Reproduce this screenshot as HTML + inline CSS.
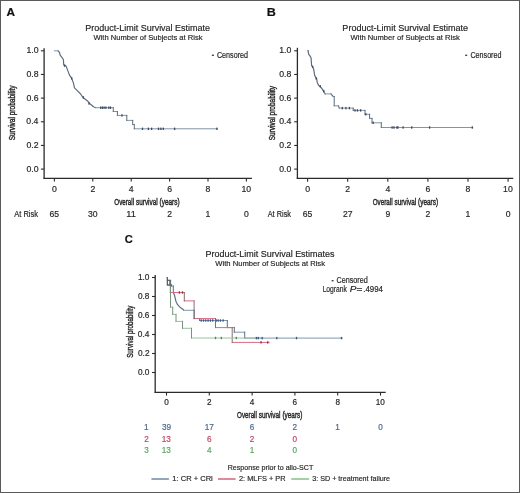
<!DOCTYPE html>
<html><head><meta charset="utf-8"><style>
html,body{margin:0;padding:0;background:#fff;}
body{width:520px;height:493px;overflow:hidden;position:relative;}
svg{position:absolute;left:0;top:0;filter:blur(0.35px);}
text{font-family:"Liberation Sans", sans-serif;}
</style></head><body>
<svg width="520" height="493" viewBox="0 0 520 493">
<rect x="0.5" y="0.5" width="519" height="492" fill="#fff" stroke="#5a5a5a" stroke-width="1"/>
<text x="6.61" y="16.20" font-size="11.5" fill="#111" stroke="#111" font-weight="bold" stroke-width="0.18" textLength="8.50" lengthAdjust="spacingAndGlyphs">A</text>
<text x="85.36" y="30.70" font-size="9.2" fill="#262626" stroke="#262626" stroke-width="0.18" textLength="124.63" lengthAdjust="spacingAndGlyphs">Product-Limit Survival Estimate</text>
<text x="93.47" y="39.70" font-size="8.0" fill="#262626" stroke="#262626" stroke-width="0.18" textLength="109.02" lengthAdjust="spacingAndGlyphs">With Number of Subjects at Risk</text>
<rect x="211.9" y="54.6" width="2" height="1.4" fill="#444"/>
<text x="216.94" y="58.00" font-size="8.4" fill="#262626" stroke="#262626" stroke-width="0.18" textLength="31.13" lengthAdjust="spacingAndGlyphs">Censored</text>
<line x1="44.10" y1="48.30" x2="44.10" y2="178.80" stroke="#2b2b2b" stroke-width="1.3"/>
<line x1="43.45" y1="178.30" x2="251.90" y2="178.30" stroke="#2b2b2b" stroke-width="1.3"/>
<line x1="40.90" y1="169.10" x2="44.10" y2="169.10" stroke="#2b2b2b" stroke-width="1.1"/>
<text x="26.45" y="171.70" font-size="8.7" fill="#262626" stroke="#262626" stroke-width="0.18" textLength="12.09" lengthAdjust="spacingAndGlyphs">0.0</text>
<line x1="40.90" y1="145.44" x2="44.10" y2="145.44" stroke="#2b2b2b" stroke-width="1.1"/>
<text x="26.54" y="148.04" font-size="8.7" fill="#262626" stroke="#262626" stroke-width="0.18" textLength="12.09" lengthAdjust="spacingAndGlyphs">0.2</text>
<line x1="40.90" y1="121.78" x2="44.10" y2="121.78" stroke="#2b2b2b" stroke-width="1.1"/>
<text x="26.36" y="124.38" font-size="8.7" fill="#262626" stroke="#262626" stroke-width="0.18" textLength="12.09" lengthAdjust="spacingAndGlyphs">0.4</text>
<line x1="40.90" y1="98.12" x2="44.10" y2="98.12" stroke="#2b2b2b" stroke-width="1.1"/>
<text x="26.49" y="100.72" font-size="8.7" fill="#262626" stroke="#262626" stroke-width="0.18" textLength="12.09" lengthAdjust="spacingAndGlyphs">0.6</text>
<line x1="40.90" y1="74.46" x2="44.10" y2="74.46" stroke="#2b2b2b" stroke-width="1.1"/>
<text x="26.48" y="77.06" font-size="8.7" fill="#262626" stroke="#262626" stroke-width="0.18" textLength="12.09" lengthAdjust="spacingAndGlyphs">0.8</text>
<line x1="40.90" y1="50.80" x2="44.10" y2="50.80" stroke="#2b2b2b" stroke-width="1.1"/>
<text x="26.45" y="53.40" font-size="8.7" fill="#262626" stroke="#262626" stroke-width="0.18" textLength="12.09" lengthAdjust="spacingAndGlyphs">1.0</text>
<line x1="54.40" y1="178.30" x2="54.40" y2="181.60" stroke="#2b2b2b" stroke-width="1.1"/>
<text x="51.98" y="191.50" font-size="8.7" fill="#262626" stroke="#262626" stroke-width="0.18" textLength="4.84" lengthAdjust="spacingAndGlyphs">0</text>
<line x1="92.80" y1="178.30" x2="92.80" y2="181.60" stroke="#2b2b2b" stroke-width="1.1"/>
<text x="90.38" y="191.50" font-size="8.7" fill="#262626" stroke="#262626" stroke-width="0.18" textLength="4.84" lengthAdjust="spacingAndGlyphs">2</text>
<line x1="131.20" y1="178.30" x2="131.20" y2="181.60" stroke="#2b2b2b" stroke-width="1.1"/>
<text x="128.81" y="191.50" font-size="8.7" fill="#262626" stroke="#262626" stroke-width="0.18" textLength="4.84" lengthAdjust="spacingAndGlyphs">4</text>
<line x1="169.60" y1="178.30" x2="169.60" y2="181.60" stroke="#2b2b2b" stroke-width="1.1"/>
<text x="167.15" y="191.50" font-size="8.7" fill="#262626" stroke="#262626" stroke-width="0.18" textLength="4.84" lengthAdjust="spacingAndGlyphs">6</text>
<line x1="208.00" y1="178.30" x2="208.00" y2="181.60" stroke="#2b2b2b" stroke-width="1.1"/>
<text x="205.58" y="191.50" font-size="8.7" fill="#262626" stroke="#262626" stroke-width="0.18" textLength="4.84" lengthAdjust="spacingAndGlyphs">8</text>
<line x1="246.40" y1="178.30" x2="246.40" y2="181.60" stroke="#2b2b2b" stroke-width="1.1"/>
<text x="241.40" y="191.50" font-size="8.7" fill="#262626" stroke="#262626" stroke-width="0.18" textLength="9.68" lengthAdjust="spacingAndGlyphs">10</text>
<text x="114.30" y="204.50" font-size="9.8" fill="#262626" stroke="#262626" stroke-width="0.45" textLength="19.81" lengthAdjust="spacingAndGlyphs">Overall</text>
<text x="136.02" y="204.50" font-size="9.8" fill="#262626" stroke="#262626" stroke-width="0.45" textLength="21.71" lengthAdjust="spacingAndGlyphs">survival</text>
<text x="159.60" y="204.50" font-size="9.8" fill="#262626" stroke="#262626" stroke-width="0.45" textLength="20.00" lengthAdjust="spacingAndGlyphs">(years)</text>
<text transform="translate(14.80,140.30) rotate(-90)" x="0" y="0" font-size="9.6" fill="#262626" stroke="#262626" stroke-width="0.4" textLength="54.81" lengthAdjust="spacingAndGlyphs">Survival probability</text>
<text x="14.24" y="216.80" font-size="8.4" fill="#262626" stroke="#262626" stroke-width="0.18" textLength="23.75" lengthAdjust="spacingAndGlyphs">At Risk</text>
<text x="49.58" y="216.80" font-size="8.6" fill="#262626" stroke="#262626" stroke-width="0.18" textLength="9.57" lengthAdjust="spacingAndGlyphs">65</text>
<text x="88.02" y="216.80" font-size="8.6" fill="#262626" stroke="#262626" stroke-width="0.18" textLength="9.57" lengthAdjust="spacingAndGlyphs">30</text>
<text x="126.30" y="216.80" font-size="8.6" fill="#262626" stroke="#262626" stroke-width="0.18" textLength="9.57" lengthAdjust="spacingAndGlyphs">11</text>
<text x="167.21" y="216.80" font-size="8.6" fill="#262626" stroke="#262626" stroke-width="0.18" textLength="4.78" lengthAdjust="spacingAndGlyphs">2</text>
<text x="205.49" y="216.80" font-size="8.6" fill="#262626" stroke="#262626" stroke-width="0.18" textLength="4.78" lengthAdjust="spacingAndGlyphs">1</text>
<text x="244.01" y="216.80" font-size="8.6" fill="#262626" stroke="#262626" stroke-width="0.18" textLength="4.78" lengthAdjust="spacingAndGlyphs">0</text>
<path d="M58.10,50.80 L59.60,52.70 L60.10,55.10 L61.70,57.20 L63.40,59.50 L63.70,65.00 L66.10,66.10 L67.80,70.60 L69.50,75.10 L71.70,78.40 L73.40,82.90 L74.50,87.90 L77.30,90.70 L80.60,94.00 L82.90,97.40 L87.30,100.70 L89.60,103.50 L93.50,106.80 L95.80,107.70" fill="none" stroke="#5e6c7d" stroke-width="1.2" stroke-linejoin="round" stroke-linecap="round"/>
<path d="M54.40,50.80H58.10 M95.80,107.70H113.30 M113.30,111.50H117.40 M117.40,115.40H126.80 M126.80,120.40H132.70 M132.70,124.50H134.30 M134.30,128.80H217.50" fill="none" stroke="#8194a8" stroke-width="1.0" stroke-linecap="square"/>
<path d="M113.30,107.70V111.50 M117.40,111.50V115.40 M126.80,115.40V120.40 M132.70,120.40V124.50 M134.30,124.50V128.80" fill="none" stroke="#5d6b7a" stroke-width="1.0" stroke-linecap="square"/>
<rect x="63.95" y="64.40" width="1.3" height="2.40" fill="#3f5064"/>
<rect x="71.05" y="77.20" width="1.3" height="2.40" fill="#3f5064"/>
<rect x="82.75" y="96.20" width="1.3" height="2.40" fill="#3f5064"/>
<rect x="88.35" y="102.30" width="1.3" height="2.40" fill="#3f5064"/>
<rect x="100.05" y="106.50" width="1.3" height="2.40" fill="#3a4a5e"/>
<rect x="101.75" y="106.50" width="1.3" height="2.40" fill="#3a4a5e"/>
<rect x="103.45" y="106.50" width="1.3" height="2.40" fill="#3a4a5e"/>
<rect x="105.25" y="106.50" width="1.3" height="2.40" fill="#3a4a5e"/>
<rect x="108.15" y="106.50" width="1.3" height="2.40" fill="#3a4a5e"/>
<rect x="109.85" y="106.50" width="1.3" height="2.40" fill="#3a4a5e"/>
<rect x="121.35" y="114.20" width="1.3" height="2.40" fill="#3a4a5e"/>
<rect x="141.85" y="127.60" width="1.3" height="2.40" fill="#3a4a5e"/>
<rect x="147.75" y="127.60" width="1.3" height="2.40" fill="#3a4a5e"/>
<rect x="150.95" y="127.60" width="1.3" height="2.40" fill="#3a4a5e"/>
<rect x="157.85" y="127.60" width="1.3" height="2.40" fill="#3a4a5e"/>
<rect x="160.25" y="127.60" width="1.3" height="2.40" fill="#3a4a5e"/>
<rect x="162.65" y="127.60" width="1.3" height="2.40" fill="#3a4a5e"/>
<rect x="173.95" y="127.60" width="1.3" height="2.40" fill="#3a4a5e"/>
<rect x="216.25" y="127.60" width="1.3" height="2.40" fill="#3a4a5e"/>
<text x="266.66" y="16.30" font-size="11.5" fill="#111" stroke="#111" font-weight="bold" stroke-width="0.18" textLength="9.12" lengthAdjust="spacingAndGlyphs">B</text>
<text x="342.36" y="30.70" font-size="9.2" fill="#262626" stroke="#262626" stroke-width="0.18" textLength="125.74" lengthAdjust="spacingAndGlyphs">Product-Limit Survival Estimate</text>
<text x="350.57" y="39.70" font-size="8.0" fill="#262626" stroke="#262626" stroke-width="0.18" textLength="109.22" lengthAdjust="spacingAndGlyphs">With Number of Subjects at Risk</text>
<rect x="465.2" y="54.6" width="2" height="1.4" fill="#444"/>
<text x="470.44" y="58.00" font-size="8.4" fill="#262626" stroke="#262626" stroke-width="0.18" textLength="31.02" lengthAdjust="spacingAndGlyphs">Censored</text>
<line x1="297.40" y1="47.80" x2="297.40" y2="178.90" stroke="#2b2b2b" stroke-width="1.3"/>
<line x1="296.75" y1="178.40" x2="513.30" y2="178.40" stroke="#2b2b2b" stroke-width="1.3"/>
<line x1="294.20" y1="169.10" x2="297.40" y2="169.10" stroke="#2b2b2b" stroke-width="1.1"/>
<text x="279.25" y="171.70" font-size="8.7" fill="#262626" stroke="#262626" stroke-width="0.18" textLength="12.09" lengthAdjust="spacingAndGlyphs">0.0</text>
<line x1="294.20" y1="145.44" x2="297.40" y2="145.44" stroke="#2b2b2b" stroke-width="1.1"/>
<text x="279.34" y="148.04" font-size="8.7" fill="#262626" stroke="#262626" stroke-width="0.18" textLength="12.09" lengthAdjust="spacingAndGlyphs">0.2</text>
<line x1="294.20" y1="121.78" x2="297.40" y2="121.78" stroke="#2b2b2b" stroke-width="1.1"/>
<text x="279.16" y="124.38" font-size="8.7" fill="#262626" stroke="#262626" stroke-width="0.18" textLength="12.09" lengthAdjust="spacingAndGlyphs">0.4</text>
<line x1="294.20" y1="98.12" x2="297.40" y2="98.12" stroke="#2b2b2b" stroke-width="1.1"/>
<text x="279.29" y="100.72" font-size="8.7" fill="#262626" stroke="#262626" stroke-width="0.18" textLength="12.09" lengthAdjust="spacingAndGlyphs">0.6</text>
<line x1="294.20" y1="74.46" x2="297.40" y2="74.46" stroke="#2b2b2b" stroke-width="1.1"/>
<text x="279.28" y="77.06" font-size="8.7" fill="#262626" stroke="#262626" stroke-width="0.18" textLength="12.09" lengthAdjust="spacingAndGlyphs">0.8</text>
<line x1="294.20" y1="50.80" x2="297.40" y2="50.80" stroke="#2b2b2b" stroke-width="1.1"/>
<text x="279.25" y="53.40" font-size="8.7" fill="#262626" stroke="#262626" stroke-width="0.18" textLength="12.09" lengthAdjust="spacingAndGlyphs">1.0</text>
<line x1="307.60" y1="178.40" x2="307.60" y2="181.70" stroke="#2b2b2b" stroke-width="1.1"/>
<text x="305.18" y="191.50" font-size="8.7" fill="#262626" stroke="#262626" stroke-width="0.18" textLength="4.84" lengthAdjust="spacingAndGlyphs">0</text>
<line x1="347.70" y1="178.40" x2="347.70" y2="181.70" stroke="#2b2b2b" stroke-width="1.1"/>
<text x="345.28" y="191.50" font-size="8.7" fill="#262626" stroke="#262626" stroke-width="0.18" textLength="4.84" lengthAdjust="spacingAndGlyphs">2</text>
<line x1="387.80" y1="178.40" x2="387.80" y2="181.70" stroke="#2b2b2b" stroke-width="1.1"/>
<text x="385.41" y="191.50" font-size="8.7" fill="#262626" stroke="#262626" stroke-width="0.18" textLength="4.84" lengthAdjust="spacingAndGlyphs">4</text>
<line x1="427.90" y1="178.40" x2="427.90" y2="181.70" stroke="#2b2b2b" stroke-width="1.1"/>
<text x="425.45" y="191.50" font-size="8.7" fill="#262626" stroke="#262626" stroke-width="0.18" textLength="4.84" lengthAdjust="spacingAndGlyphs">6</text>
<line x1="468.00" y1="178.40" x2="468.00" y2="181.70" stroke="#2b2b2b" stroke-width="1.1"/>
<text x="465.58" y="191.50" font-size="8.7" fill="#262626" stroke="#262626" stroke-width="0.18" textLength="4.84" lengthAdjust="spacingAndGlyphs">8</text>
<line x1="508.10" y1="178.40" x2="508.10" y2="181.70" stroke="#2b2b2b" stroke-width="1.1"/>
<text x="503.10" y="191.50" font-size="8.7" fill="#262626" stroke="#262626" stroke-width="0.18" textLength="9.68" lengthAdjust="spacingAndGlyphs">10</text>
<text x="372.75" y="204.50" font-size="9.8" fill="#262626" stroke="#262626" stroke-width="0.45" textLength="19.81" lengthAdjust="spacingAndGlyphs">Overall</text>
<text x="394.47" y="204.50" font-size="9.8" fill="#262626" stroke="#262626" stroke-width="0.45" textLength="21.71" lengthAdjust="spacingAndGlyphs">survival</text>
<text x="418.05" y="204.50" font-size="9.8" fill="#262626" stroke="#262626" stroke-width="0.45" textLength="20.00" lengthAdjust="spacingAndGlyphs">(years)</text>
<text transform="translate(274.80,140.29) rotate(-90)" x="0" y="0" font-size="9.6" fill="#262626" stroke="#262626" stroke-width="0.4" textLength="54.41" lengthAdjust="spacingAndGlyphs">Survival probability</text>
<text x="267.69" y="216.80" font-size="8.4" fill="#262626" stroke="#262626" stroke-width="0.18" textLength="23.30" lengthAdjust="spacingAndGlyphs">At Risk</text>
<text x="302.78" y="216.80" font-size="8.6" fill="#262626" stroke="#262626" stroke-width="0.18" textLength="9.57" lengthAdjust="spacingAndGlyphs">65</text>
<text x="342.92" y="216.80" font-size="8.6" fill="#262626" stroke="#262626" stroke-width="0.18" textLength="9.57" lengthAdjust="spacingAndGlyphs">27</text>
<text x="385.41" y="216.80" font-size="8.6" fill="#262626" stroke="#262626" stroke-width="0.18" textLength="4.78" lengthAdjust="spacingAndGlyphs">9</text>
<text x="425.51" y="216.80" font-size="8.6" fill="#262626" stroke="#262626" stroke-width="0.18" textLength="4.78" lengthAdjust="spacingAndGlyphs">2</text>
<text x="465.49" y="216.80" font-size="8.6" fill="#262626" stroke="#262626" stroke-width="0.18" textLength="4.78" lengthAdjust="spacingAndGlyphs">1</text>
<text x="505.71" y="216.80" font-size="8.6" fill="#262626" stroke="#262626" stroke-width="0.18" textLength="4.78" lengthAdjust="spacingAndGlyphs">0</text>
<path d="M308.10,50.60 L308.60,54.10 L310.10,56.10 L311.10,58.10 L311.60,65.70 L312.60,66.80 L313.60,68.80 L314.60,74.90 L315.70,77.40 L316.70,78.90 L317.20,82.50 L318.70,85.50 L320.20,86.50 L322.30,89.10 L324.30,92.60 L325.30,93.90" fill="none" stroke="#5e6c7d" stroke-width="1.2" stroke-linejoin="round" stroke-linecap="round"/>
<path d="M330.90,93.90 L332.40,95.70 L333.40,96.50" fill="none" stroke="#5e6c7d" stroke-width="1.2" stroke-linejoin="round" stroke-linecap="round"/>
<path d="M338.30,105.80 L339.30,108.10" fill="none" stroke="#5e6c7d" stroke-width="1.2" stroke-linejoin="round" stroke-linecap="round"/>
<path d="M307.60,50.60H308.10 M325.30,93.90H330.90 M333.40,96.50H334.20 M334.20,105.80H338.30 M339.30,108.10H353.20 M353.20,110.40H365.00 M365.00,114.30H369.60 M369.60,118.40H372.00 M372.00,122.80H381.30 M381.30,127.50H472.70" fill="none" stroke="#8194a8" stroke-width="1.0" stroke-linecap="square"/>
<path d="M334.20,96.50V105.80 M353.20,108.10V110.40 M365.00,110.40V114.30 M369.60,114.30V118.40 M372.00,118.40V122.80 M381.30,122.80V127.50" fill="none" stroke="#5d6b7a" stroke-width="1.0" stroke-linecap="square"/>
<rect x="311.95" y="65.60" width="1.3" height="2.40" fill="#3f5064"/>
<rect x="315.55" y="77.20" width="1.3" height="2.40" fill="#3f5064"/>
<rect x="319.55" y="85.00" width="1.3" height="2.40" fill="#3f5064"/>
<rect x="323.15" y="89.90" width="1.3" height="2.40" fill="#3f5064"/>
<rect x="341.65" y="106.90" width="1.3" height="2.40" fill="#3a4a5e"/>
<rect x="345.25" y="106.90" width="1.3" height="2.40" fill="#3a4a5e"/>
<rect x="348.75" y="106.90" width="1.3" height="2.40" fill="#3a4a5e"/>
<rect x="354.35" y="109.20" width="1.3" height="2.40" fill="#3a4a5e"/>
<rect x="356.85" y="109.20" width="1.3" height="2.40" fill="#3a4a5e"/>
<rect x="359.95" y="109.20" width="1.3" height="2.40" fill="#3a4a5e"/>
<rect x="365.15" y="113.10" width="1.3" height="2.40" fill="#3a4a5e"/>
<rect x="372.55" y="121.60" width="1.3" height="2.40" fill="#3a4a5e"/>
<rect x="391.45" y="126.30" width="1.3" height="2.40" fill="#3a4a5e"/>
<rect x="393.35" y="126.30" width="1.3" height="2.40" fill="#3a4a5e"/>
<rect x="396.25" y="126.30" width="1.3" height="2.40" fill="#3a4a5e"/>
<rect x="397.25" y="126.30" width="1.3" height="2.40" fill="#3a4a5e"/>
<rect x="402.45" y="126.30" width="1.3" height="2.40" fill="#3a4a5e"/>
<rect x="411.05" y="126.30" width="1.3" height="2.40" fill="#3a4a5e"/>
<rect x="428.95" y="126.30" width="1.3" height="2.40" fill="#3a4a5e"/>
<rect x="471.65" y="126.30" width="1.3" height="2.40" fill="#3a4a5e"/>
<text x="124.74" y="243.00" font-size="11.5" fill="#111" stroke="#111" font-weight="bold" stroke-width="0.18" textLength="8.06" lengthAdjust="spacingAndGlyphs">C</text>
<text x="205.46" y="257.10" font-size="9.2" fill="#262626" stroke="#262626" stroke-width="0.18" textLength="129.06" lengthAdjust="spacingAndGlyphs">Product-Limit Survival Estimates</text>
<text x="215.37" y="266.40" font-size="8.0" fill="#262626" stroke="#262626" stroke-width="0.18" textLength="109.62" lengthAdjust="spacingAndGlyphs">With Number of Subjects at Risk</text>
<rect x="331.6" y="280.0" width="2" height="1.4" fill="#444"/>
<text x="336.43" y="283.10" font-size="8.4" fill="#262626" stroke="#262626" stroke-width="0.18" textLength="31.44" lengthAdjust="spacingAndGlyphs">Censored</text>
<text x="322.65" y="291.60" font-size="8.5" fill="#262626" stroke="#262626" stroke-width="0.18" textLength="24.24" lengthAdjust="spacingAndGlyphs">Logrank</text>
<text x="349.78" y="291.60" font-size="8.5" fill="#262626" stroke="#262626" stroke-width="0.18" textLength="6.64" lengthAdjust="spacingAndGlyphs" font-style="italic">P</text>
<text x="356.51" y="291.60" font-size="8.5" fill="#262626" stroke="#262626" stroke-width="0.18" textLength="5.89" lengthAdjust="spacingAndGlyphs">=</text>
<text x="363.28" y="291.60" font-size="8.5" fill="#262626" stroke="#262626" stroke-width="0.18" textLength="19.75" lengthAdjust="spacingAndGlyphs">.4994</text>
<line x1="155.20" y1="275.00" x2="155.20" y2="392.80" stroke="#2b2b2b" stroke-width="1.3"/>
<line x1="154.55" y1="392.30" x2="385.70" y2="392.30" stroke="#2b2b2b" stroke-width="1.3"/>
<line x1="152.00" y1="372.50" x2="155.20" y2="372.50" stroke="#2b2b2b" stroke-width="1.1"/>
<text x="137.89" y="375.10" font-size="8.3" fill="#262626" stroke="#262626" stroke-width="0.18" textLength="11.54" lengthAdjust="spacingAndGlyphs">0.0</text>
<line x1="152.00" y1="353.50" x2="155.20" y2="353.50" stroke="#2b2b2b" stroke-width="1.1"/>
<text x="137.98" y="356.10" font-size="8.3" fill="#262626" stroke="#262626" stroke-width="0.18" textLength="11.54" lengthAdjust="spacingAndGlyphs">0.2</text>
<line x1="152.00" y1="334.50" x2="155.20" y2="334.50" stroke="#2b2b2b" stroke-width="1.1"/>
<text x="137.81" y="337.10" font-size="8.3" fill="#262626" stroke="#262626" stroke-width="0.18" textLength="11.54" lengthAdjust="spacingAndGlyphs">0.4</text>
<line x1="152.00" y1="315.50" x2="155.20" y2="315.50" stroke="#2b2b2b" stroke-width="1.1"/>
<text x="137.93" y="318.10" font-size="8.3" fill="#262626" stroke="#262626" stroke-width="0.18" textLength="11.54" lengthAdjust="spacingAndGlyphs">0.6</text>
<line x1="152.00" y1="296.50" x2="155.20" y2="296.50" stroke="#2b2b2b" stroke-width="1.1"/>
<text x="137.92" y="299.10" font-size="8.3" fill="#262626" stroke="#262626" stroke-width="0.18" textLength="11.54" lengthAdjust="spacingAndGlyphs">0.8</text>
<line x1="152.00" y1="277.50" x2="155.20" y2="277.50" stroke="#2b2b2b" stroke-width="1.1"/>
<text x="137.89" y="280.10" font-size="8.3" fill="#262626" stroke="#262626" stroke-width="0.18" textLength="11.54" lengthAdjust="spacingAndGlyphs">1.0</text>
<line x1="166.50" y1="392.30" x2="166.50" y2="395.60" stroke="#2b2b2b" stroke-width="1.1"/>
<text x="164.22" y="405.00" font-size="8.2" fill="#262626" stroke="#262626" stroke-width="0.18" textLength="4.56" lengthAdjust="spacingAndGlyphs">0</text>
<line x1="209.30" y1="392.30" x2="209.30" y2="395.60" stroke="#2b2b2b" stroke-width="1.1"/>
<text x="207.02" y="405.00" font-size="8.2" fill="#262626" stroke="#262626" stroke-width="0.18" textLength="4.56" lengthAdjust="spacingAndGlyphs">2</text>
<line x1="252.10" y1="392.30" x2="252.10" y2="395.60" stroke="#2b2b2b" stroke-width="1.1"/>
<text x="249.85" y="405.00" font-size="8.2" fill="#262626" stroke="#262626" stroke-width="0.18" textLength="4.56" lengthAdjust="spacingAndGlyphs">4</text>
<line x1="294.90" y1="392.30" x2="294.90" y2="395.60" stroke="#2b2b2b" stroke-width="1.1"/>
<text x="292.59" y="405.00" font-size="8.2" fill="#262626" stroke="#262626" stroke-width="0.18" textLength="4.56" lengthAdjust="spacingAndGlyphs">6</text>
<line x1="337.70" y1="392.30" x2="337.70" y2="395.60" stroke="#2b2b2b" stroke-width="1.1"/>
<text x="335.42" y="405.00" font-size="8.2" fill="#262626" stroke="#262626" stroke-width="0.18" textLength="4.56" lengthAdjust="spacingAndGlyphs">8</text>
<line x1="380.50" y1="392.30" x2="380.50" y2="395.60" stroke="#2b2b2b" stroke-width="1.1"/>
<text x="375.79" y="405.00" font-size="8.2" fill="#262626" stroke="#262626" stroke-width="0.18" textLength="9.12" lengthAdjust="spacingAndGlyphs">10</text>
<text x="237.10" y="418.30" font-size="9.8" fill="#262626" stroke="#262626" stroke-width="0.45" textLength="19.81" lengthAdjust="spacingAndGlyphs">Overall</text>
<text x="258.82" y="418.30" font-size="9.8" fill="#262626" stroke="#262626" stroke-width="0.45" textLength="21.71" lengthAdjust="spacingAndGlyphs">survival</text>
<text x="282.40" y="418.30" font-size="9.8" fill="#262626" stroke="#262626" stroke-width="0.45" textLength="20.00" lengthAdjust="spacingAndGlyphs">(years)</text>
<text transform="translate(133.00,357.78) rotate(-90)" x="0" y="0" font-size="9.6" fill="#262626" stroke="#262626" stroke-width="0.4" textLength="52.19" lengthAdjust="spacingAndGlyphs">Survival probability</text>
<path d="M173.30,292.50 L174.40,295.00 L175.20,298.20 L176.00,301.50 L177.60,304.70 L180.00,307.20 L182.90,309.20 L183.70,310.30" fill="none" stroke="#5a6b80" stroke-width="1.15" stroke-linejoin="round" stroke-linecap="round"/>
<path d="M166.50,277.50H167.40 M167.40,280.30H170.60 M170.60,284.90H171.60 M171.60,286.10H173.30 M183.70,310.30H194.20 M194.20,318.50H199.60 M199.60,320.50H227.30 M227.30,327.60H234.30 M234.30,332.20H244.70 M244.70,338.10H342.30" fill="none" stroke="#8096b0" stroke-width="1.0" stroke-linecap="square"/>
<path d="M167.40,277.50V280.30 M170.60,280.30V284.90 M171.60,284.90V286.10 M173.30,286.10V292.50 M194.20,310.30V318.50 M199.60,318.50V320.50 M227.30,320.50V327.60 M234.30,327.60V332.20 M244.70,332.20V338.10" fill="none" stroke="#5e6e80" stroke-width="1.0" stroke-linecap="square"/>
<path d="M166.50,277.50H167.40 M167.40,284.90H170.30 M170.30,292.50H184.30 M184.30,300.90H194.10 M194.10,318.60H215.50 M215.50,327.60H232.20 M232.20,342.40H269.20" fill="none" stroke="#d66a84" stroke-width="1.0" stroke-linecap="square"/>
<path d="M167.40,277.50V284.90 M170.30,284.90V292.50 M184.30,292.50V300.90 M194.10,300.90V318.60 M215.50,318.60V327.60 M232.20,327.60V342.40" fill="none" stroke="#8c6a74" stroke-width="1.0" stroke-linecap="square"/>
<path d="M166.50,277.50H167.40 M167.40,284.90H170.50 M170.50,307.20H172.70 M172.70,314.40H176.00 M176.00,321.40H182.50 M182.50,328.30H191.50 M191.50,338.00H263.00" fill="none" stroke="#98c49c" stroke-width="1.0" stroke-linecap="square"/>
<path d="M167.40,277.50V284.90 M170.50,284.90V307.20 M172.70,307.20V314.40 M176.00,314.40V321.40 M182.50,321.40V328.30 M191.50,328.30V338.00" fill="none" stroke="#7b917e" stroke-width="1.0" stroke-linecap="square"/>
<path d="M167.4,277.3V285.1H171.4M167.4,280.3H169.8V285.1" fill="none" stroke="#555a60" stroke-width="1"/>
<rect x="214.85" y="336.80" width="1.3" height="2.40" fill="#3f8f4f"/>
<rect x="220.65" y="336.80" width="1.3" height="2.40" fill="#3f8f4f"/>
<rect x="235.65" y="336.80" width="1.3" height="2.40" fill="#3f8f4f"/>
<rect x="178.75" y="291.30" width="1.3" height="2.40" fill="#a8283f"/>
<rect x="181.85" y="291.30" width="1.3" height="2.40" fill="#a8283f"/>
<rect x="260.35" y="341.20" width="1.3" height="2.40" fill="#a8283f"/>
<rect x="267.05" y="341.20" width="1.3" height="2.40" fill="#a8283f"/>
<rect x="200.55" y="319.30" width="1.3" height="2.40" fill="#35587f"/>
<rect x="202.85" y="319.30" width="1.3" height="2.40" fill="#35587f"/>
<rect x="205.15" y="319.30" width="1.3" height="2.40" fill="#35587f"/>
<rect x="207.45" y="319.30" width="1.3" height="2.40" fill="#35587f"/>
<rect x="209.75" y="319.30" width="1.3" height="2.40" fill="#35587f"/>
<rect x="212.05" y="319.30" width="1.3" height="2.40" fill="#35587f"/>
<rect x="215.55" y="319.30" width="1.3" height="2.40" fill="#35587f"/>
<rect x="217.45" y="319.30" width="1.3" height="2.40" fill="#35587f"/>
<rect x="219.75" y="319.30" width="1.3" height="2.40" fill="#35587f"/>
<rect x="222.45" y="319.30" width="1.3" height="2.40" fill="#35587f"/>
<rect x="255.75" y="336.90" width="1.3" height="2.40" fill="#35587f"/>
<rect x="257.65" y="336.90" width="1.3" height="2.40" fill="#35587f"/>
<rect x="261.55" y="336.90" width="1.3" height="2.40" fill="#35587f"/>
<rect x="276.15" y="336.90" width="1.3" height="2.40" fill="#35587f"/>
<rect x="295.85" y="336.90" width="1.3" height="2.40" fill="#35587f"/>
<rect x="340.85" y="336.90" width="1.3" height="2.40" fill="#35587f"/>
<text x="144.11" y="430.00" font-size="8.2" fill="#48688e" stroke="#48688e" stroke-width="0.18" textLength="4.56" lengthAdjust="spacingAndGlyphs">1</text>
<text x="161.98" y="430.00" font-size="8.2" fill="#48688e" stroke="#48688e" stroke-width="0.18" textLength="9.12" lengthAdjust="spacingAndGlyphs">39</text>
<text x="204.63" y="430.00" font-size="8.2" fill="#48688e" stroke="#48688e" stroke-width="0.18" textLength="9.12" lengthAdjust="spacingAndGlyphs">17</text>
<text x="249.79" y="430.00" font-size="8.2" fill="#48688e" stroke="#48688e" stroke-width="0.18" textLength="4.56" lengthAdjust="spacingAndGlyphs">6</text>
<text x="292.62" y="430.00" font-size="8.2" fill="#48688e" stroke="#48688e" stroke-width="0.18" textLength="4.56" lengthAdjust="spacingAndGlyphs">2</text>
<text x="335.31" y="430.00" font-size="8.2" fill="#48688e" stroke="#48688e" stroke-width="0.18" textLength="4.56" lengthAdjust="spacingAndGlyphs">1</text>
<text x="378.22" y="430.00" font-size="8.2" fill="#48688e" stroke="#48688e" stroke-width="0.18" textLength="4.56" lengthAdjust="spacingAndGlyphs">0</text>
<text x="144.22" y="441.50" font-size="8.2" fill="#c24460" stroke="#c24460" stroke-width="0.18" textLength="4.56" lengthAdjust="spacingAndGlyphs">2</text>
<text x="161.81" y="441.50" font-size="8.2" fill="#c24460" stroke="#c24460" stroke-width="0.18" textLength="9.12" lengthAdjust="spacingAndGlyphs">13</text>
<text x="206.99" y="441.50" font-size="8.2" fill="#c24460" stroke="#c24460" stroke-width="0.18" textLength="4.56" lengthAdjust="spacingAndGlyphs">6</text>
<text x="249.82" y="441.50" font-size="8.2" fill="#c24460" stroke="#c24460" stroke-width="0.18" textLength="4.56" lengthAdjust="spacingAndGlyphs">2</text>
<text x="292.62" y="441.50" font-size="8.2" fill="#c24460" stroke="#c24460" stroke-width="0.18" textLength="4.56" lengthAdjust="spacingAndGlyphs">0</text>
<text x="144.24" y="453.00" font-size="8.2" fill="#58a660" stroke="#58a660" stroke-width="0.18" textLength="4.56" lengthAdjust="spacingAndGlyphs">3</text>
<text x="161.81" y="453.00" font-size="8.2" fill="#58a660" stroke="#58a660" stroke-width="0.18" textLength="9.12" lengthAdjust="spacingAndGlyphs">13</text>
<text x="207.05" y="453.00" font-size="8.2" fill="#58a660" stroke="#58a660" stroke-width="0.18" textLength="4.56" lengthAdjust="spacingAndGlyphs">4</text>
<text x="249.71" y="453.00" font-size="8.2" fill="#58a660" stroke="#58a660" stroke-width="0.18" textLength="4.56" lengthAdjust="spacingAndGlyphs">1</text>
<text x="292.62" y="453.00" font-size="8.2" fill="#58a660" stroke="#58a660" stroke-width="0.18" textLength="4.56" lengthAdjust="spacingAndGlyphs">0</text>
<text x="227.72" y="470.00" font-size="7.6" fill="#262626" stroke="#262626" stroke-width="0.18" textLength="85.54" lengthAdjust="spacingAndGlyphs">Response prior to allo-SCT</text>
<line x1="151.40" y1="479.00" x2="168.90" y2="479.00" stroke="#7890ab" stroke-width="1.6"/>
<text x="172.32" y="481.40" font-size="7.9" fill="#262626" stroke="#262626" stroke-width="0.18" textLength="40.48" lengthAdjust="spacingAndGlyphs">1: CR + CRi</text>
<line x1="218.00" y1="479.00" x2="235.60" y2="479.00" stroke="#d66c82" stroke-width="1.6"/>
<text x="238.93" y="481.40" font-size="7.9" fill="#262626" stroke="#262626" stroke-width="0.18" textLength="46.72" lengthAdjust="spacingAndGlyphs">2: MLFS + PR</text>
<line x1="291.20" y1="479.00" x2="309.10" y2="479.00" stroke="#8cc690" stroke-width="1.6"/>
<text x="312.23" y="481.40" font-size="7.9" fill="#262626" stroke="#262626" stroke-width="0.18" textLength="77.89" lengthAdjust="spacingAndGlyphs">3: SD + treatment failure</text>
</svg>
</body></html>
